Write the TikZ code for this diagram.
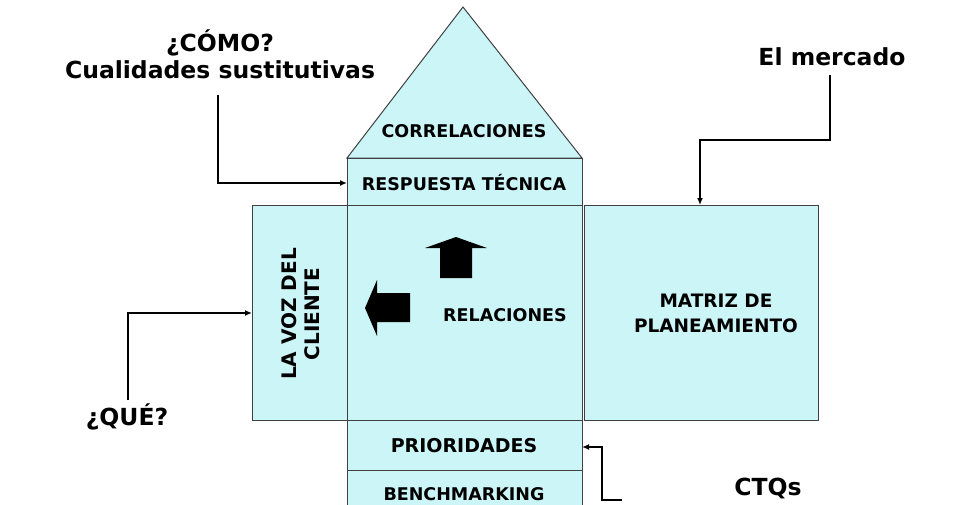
\documentclass[tikz,border=0pt]{standalone}
\usepackage{fontspec}
\usetikzlibrary{arrows.meta}
\setmainfont{DejaVu Sans}
\begin{document}
\begin{tikzpicture}[x=1pt,y=-1pt,
  lbl/.style={font=\bfseries\fontsize{17.5}{21}\selectfont,inner sep=0pt},
  big/.style={font=\bfseries\fontsize{23.5}{27}\selectfont,align=center,inner sep=0pt},
  conn/.style={line width=1.4pt,-{Latex[length=7pt,width=6pt]}}]
\definecolor{lc}{HTML}{CCF5F8}
\tikzset{box/.style={draw=black!75,fill=lc,line width=1pt}}
\useasboundingbox (0,0) rectangle (960,504);
\fill[box] (347,158) -- (463,7) -- (582,158) -- cycle;
\draw[box] (347,158) rectangle (582,205);
\draw[box] (252,205) rectangle (347,420);
\draw[box] (347,205) rectangle (582,420);
\draw[box] (584,205) rectangle (818,420);
\draw[box] (347,420) rectangle (582,470);
\draw[box] (347,470) rectangle (582,510);
\node[lbl] (corr) at (464,131) {CORRELACIONES};
\node[lbl] (resp) at (464,183) {RESPUESTA TÉCNICA};
\node[lbl,align=center,rotate=90,font=\bfseries\fontsize{20}{23}\selectfont] (voz) at (301,314) {LA VOZ DEL\\CLIENTE};
\node[lbl] (rel) at (505,315) {RELACIONES};
\node[lbl,align=center,font=\bfseries\fontsize{18.5}{25}\selectfont] (mat) at (716,313) {MATRIZ DE\\PLANEAMIENTO};
\node[lbl,font=\bfseries\fontsize{19}{22}\selectfont] (prio) at (464,446) {PRIORIDADES};
\node[lbl] (bench) at (464,494) {BENCHMARKING};
\fill (425,248) -- (456,237) -- (487,248) -- (472,248) -- (472,278) -- (440,278) -- (440,248) -- cycle;
\fill (365,308) -- (377,280) -- (377,293) -- (410,293) -- (410,322) -- (377,322) -- (377,336) -- cycle;
\node[big] (como) at (220,54) {¿CÓMO?\\Cualidades sustitutivas};
\node[big] (merc) at (832,57) {El mercado};
\node[big] (que) at (127,417) {¿QUÉ?};
\node[big] (ctq) at (768,488) {CTQs};
\coordinate (c1) at (218,95);
\coordinate (m1) at (830,75);
\coordinate (q1) at (128,400);
\coordinate (t1) at (622,500);
\draw[conn] (c1) |- (347,183);
\draw[conn] (m1) -- (830,140) -| (700,205);
\draw[conn] (q1) |- (252,313);
\draw[conn] (t1) -- (602,500) |- (582,447);
\end{tikzpicture}
\end{document}
